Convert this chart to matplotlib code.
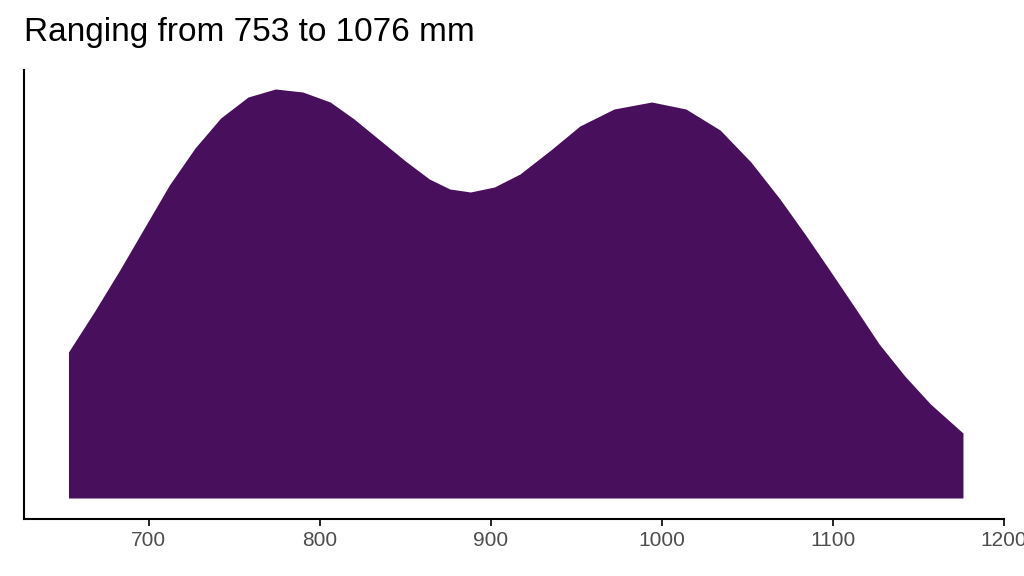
import matplotlib
matplotlib.use("Agg")
import matplotlib.pyplot as plt

plt.rcParams['font.family'] = ['Liberation Sans', 'DejaVu Sans']

x = [653, 668, 683, 698, 712, 727, 742, 758, 774, 790, 806, 820, 835, 850, 864, 876, 888, 902, 917, 935, 952, 972, 994, 1014, 1034, 1052, 1069, 1084, 1098, 1113, 1127, 1142, 1157, 1176]
density = [146, 186, 228, 272, 313, 350, 380, 401, 409, 406, 396, 379, 358, 337, 319, 309, 306, 311, 324, 348, 372, 389, 396, 389, 368, 336, 299, 263, 228, 190, 154, 122, 94, 65]
xticks = [700, 800, 900, 1000, 1100, 1200]

fig = plt.figure(figsize=(10.24, 5.76), dpi=100)
ax = fig.add_axes([24/1024, 1-519/576, 980/1024, 449/576])
ax.fill_between(x, 0, density, color="#480f5c", linewidth=0)
ax.set_xlim(627, 1200)
ax.set_ylim(-21, 428)
ax.set_xticks(xticks)
ax.set_xticklabels([str(t) for t in xticks], color="#4d4d4d", fontsize=15)
ax.set_yticks([])
ax.spines["top"].set_visible(False)
ax.spines["right"].set_visible(False)
ax.spines["left"].set_linewidth(1.5)
ax.spines["bottom"].set_linewidth(1.5)
ax.tick_params(axis="x", length=5, width=1.2, pad=4)
fig.text(24/1024, 1-33/576, "Ranging from 753 to 1076 mm", fontsize=24, va="center", ha="left")
fig.savefig("out.png", dpi=100)
